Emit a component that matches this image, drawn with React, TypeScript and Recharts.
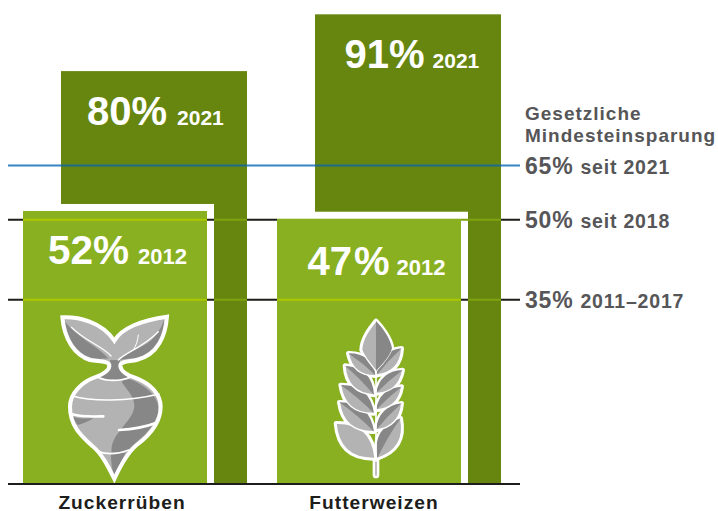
import { BarChart, Bar, XAxis, YAxis, ReferenceLine, LabelList } from "recharts";

const categories = ["Zuckerrüben", "Futterweizen"];
const printed2021 = [80, 91];
const printed2012 = [52, 47];

// The original graphic is not drawn to scale, so the heights below are what
// the picture shows on the axis, while the printed* lists hold the stated percent.
const drawn2021 = [80, 91];
const drawn2012 = [52.9, 51.4];
const guideDrawn = [61.7, 51.2, 35.7];
const guidePercent = ["65%", "50%", "35%"];
const guidePeriod = ["seit 2021", "seit 2018", "2011–2017"];

const data = categories.map((name, i) => ({
  name,
  drawn2021: drawn2021[i],
  drawn2012: drawn2012[i],
  printed2021: printed2021[i],
  printed2012: printed2012[i],
}));

const FONT = "'Liberation Sans', Arial, sans-serif";
const TEXT_GREY = "#565658";
const BACK_GREEN = "#66860f";
const FRONT_GREEN = "#88b021";
const BORDER = 7;

const guideColor = ["#3584c4", "#1d1d1b", "#1d1d1b"];
const guideOnBack = ["#1f6a8c", "#7fa30f", "#7fa30f"];
const guideOnFront = ["#1f6a8c", "#acc800", "#acc800"];
const tickShift = [-12, -14];

// y of a guide inside a bar, from the bar's own scale
const guideY = (p: any, g: number) => p.y + p.height - (p.height * g) / p.drawnValue;

function BackBar(props: any) {
  const { x, y, width, height, drawn2021: drawnValue } = props;
  const p = { y, height, drawnValue };
  return (
    <g>
      <rect x={x} y={y} width={width} height={height} fill={BACK_GREEN} />
      {guideDrawn.map((g, i) => (
        <line key={i} x1={x} x2={x + width} y1={guideY(p, g)} y2={guideY(p, g)} stroke={guideOnBack[i]} strokeWidth={2} />
      ))}
    </g>
  );
}

function Beet({ x, y }: { x: number; y: number }) {
  const dark = "#878787";
  const light = "#b3b3b3";
  const outline =
    "M22 22 C70 20 140 35 178 92 C200 55 260 30 336 20 C332 75 310 135 245 150 C225 155 195 152 196 168 C198 185 215 195 240 203 C285 220 317 250 317 290 C317 340 285 375 245 405 C215 430 195 470 178 507 C160 470 140 430 112 408 C75 375 45 345 45 290 C45 250 80 215 125 200 C145 193 165 180 163 165 C160 152 130 155 105 150 C60 135 28 90 22 22 Z";
  return (
    <g transform={`translate(${x},${y}) scale(0.3333)`}>
      <path d={outline} fill={light} />
      <path d="M30 35 C40 90 65 130 110 143 C130 148 150 146 160 145 C130 110 70 85 30 35 Z" fill={dark} />
      <path d="M328 28 C325 80 300 130 245 143 C230 147 210 145 195 150 C215 125 260 115 290 90 C310 70 320 50 328 28 Z" fill={dark} />
      <path d="M165 150 L195 150 C188 175 205 190 225 200 C195 212 155 212 130 202 C150 195 172 175 165 150 Z" fill={dark} />
      <path d="M200 215 C215 240 240 260 238 290 C235 320 205 345 185 375 C172 395 168 410 170 428 C190 428 205 425 215 425 C240 395 290 370 310 310 C318 270 280 225 215 205 Z" fill={dark} />
      <path d="M168 432 L212 428 C200 450 188 475 178 500 C172 480 168 460 168 432 Z" fill={dark} />
      <path d="M55 320 C75 328 100 325 115 325 C100 335 80 342 68 345 C60 335 57 330 55 320 Z" fill={dark} />
      <path d={outline} fill="none" stroke="#fff" strokeWidth={12} />
      <g fill="none" stroke="#fff" strokeLinecap="round">
        <path d="M50 52 C85 90 145 110 168 138" strokeWidth={4} />
        <path d="M190 150 C215 125 260 115 310 65" strokeWidth={4} />
        <path d="M235 120 C245 105 248 90 250 75" strokeWidth={3} />
        <path d="M125 200 C155 215 195 215 230 200" strokeWidth={5} />
        <path d="M52 258 C110 275 220 275 312 252" strokeWidth={5} />
        <path d="M52 313 C85 322 115 320 145 319" strokeWidth={8} />
        <path d="M192 360 C230 358 270 352 300 340" strokeWidth={8} />
        <path d="M130 425 C160 435 195 430 222 420" strokeWidth={5} />
      </g>
    </g>
  );
}

// tip x, tip y, base x, base y, width factor
const wheatLeft = [
  [18, 325, 135, 430, 0.47],
  [28, 262, 132, 350, 0.44],
  [32, 210, 132, 295, 0.44],
  [45, 152, 132, 240, 0.44],
  [55, 115, 138, 182, 0.42],
];
const wheatRight = [
  [212, 310, 142, 430, 0.44],
  [215, 265, 138, 345, 0.4],
  [215, 215, 138, 285, 0.4],
  [218, 165, 138, 235, 0.4],
  [215, 100, 140, 180, 0.42],
];

function leafPaths([tx, ty, bx, by, w]: number[], side: number) {
  const dx = bx - tx;
  const dy = by - ty;
  const mx = tx + dx / 2;
  const my = ty + dy / 2;
  const k = w * side;
  const c1 = `${mx + dy * k} ${my - dx * k}`;
  const c2 = `${mx - dy * k} ${my + dx * k}`;
  return {
    outer: `M${tx} ${ty} Q${c1} ${bx} ${by} Q${c2} ${tx} ${ty} Z`,
    half: `M${tx} ${ty} Q${c1} ${bx} ${by} Q${mx + dy * k * 0.1} ${my - dx * k * 0.1} ${tx} ${ty} Z`,
  };
}

function Wheat({ x, y }: { x: number; y: number }) {
  const dark = "#878787";
  const light = "#b3b3b3";
  const top = "M138 18 C120 40 96 70 95 105 C105 130 125 150 138 168 C155 150 180 125 186 100 C182 70 155 35 138 18 Z";
  const leaves = [
    ...wheatLeft.map((l, i) => ({ ...leafPaths(l, 1), shade: i > 0 })),
    ...wheatRight.map((l) => ({ ...leafPaths(l, -1), shade: true })),
  ];
  return (
    <g transform={`translate(${x},${y}) scale(0.3333)`}>
      <path d="M138 420 L138 480" stroke="#fff" strokeWidth={20} strokeLinecap="round" />
      <path d="M138 420 L138 480" stroke={light} strokeWidth={5} strokeLinecap="round" />
      {leaves.map((l, i) => (
        <path key={i} d={l.outer} fill="#fff" stroke="#fff" strokeWidth={14} strokeLinejoin="round" />
      ))}
      <path d={top} fill="#fff" stroke="#fff" strokeWidth={14} strokeLinejoin="round" />
      {leaves.map((l, i) => (
        <g key={i}>
          <path d={l.outer} fill={light} stroke="#fff" strokeWidth={4} />
          {l.shade && <path d={l.half} fill={dark} />}
        </g>
      ))}
      <path d={top} fill={light} stroke="#fff" strokeWidth={4} />
      <path d="M138 18 C155 35 182 70 186 100 C180 125 155 150 138 168 Z" fill={dark} />
      <path d="M138 170 L138 440" stroke="#fff" strokeWidth={5} />
    </g>
  );
}

function FrontBar(props: any) {
  const { x, y, width, height, drawn2012: drawnValue, index } = props;
  const p = { y, height, drawnValue };
  const inside = guideDrawn.filter((g) => g <= drawnValue);
  const cx = x + width / 2;
  const base = y + height;
  return (
    <g>
      <rect x={x - BORDER} y={y - BORDER} width={width + 2 * BORDER} height={height + BORDER} fill="#fff" />
      {inside.map((g) => {
        const atTop = drawnValue - g < 0.5;
        return (
          <g key={g}>
            <line x1={x - BORDER} x2={x} y1={guideY(p, g)} y2={guideY(p, g)} stroke="#1d1d1b" strokeWidth={2} />
            <line
              x1={x + width}
              x2={x + width + BORDER}
              y1={guideY(p, g)}
              y2={guideY(p, g)}
              stroke={atTop ? guideOnBack[guideDrawn.indexOf(g)] : "#1d1d1b"}
              strokeWidth={2}
            />
          </g>
        );
      })}
      <rect x={x} y={y} width={width} height={height} fill={FRONT_GREEN} />
      {inside
        .filter((g) => drawnValue - g >= 0.5)
        .map((g) => (
          <line key={g} x1={x} x2={x + width} y1={guideY(p, g)} y2={guideY(p, g)} stroke={guideOnFront[guideDrawn.indexOf(g)]} strokeWidth={2} />
        ))}
      {index === 0 ? <Beet x={cx - 60} y={base - 174} /> : <Wheat x={cx - 39} y={base - 169} />}
    </g>
  );
}

const labelStyle2021 = { inset: [26, 29.5], drop: [54, 54], size: [40, 40], yearSize: [21, 21], gap: [10, 8], pctGap: [0, 0] };
const labelStyle2012 = { inset: [25, 30.5], drop: [53, 56], size: [40.5, 40], yearSize: [22, 22], gap: [9, 7], pctGap: [0, 2] };

function percentLabel(year: string, s: typeof labelStyle2021) {
  return (props: any) => {
    const { x, y, value, index: i } = props;
    return (
      <text x={x + s.inset[i]} y={y + s.drop[i]} fill="#fff" fontFamily={FONT} fontWeight="bold">
        <tspan fontSize={s.size[i]}>{value}</tspan>
        <tspan fontSize={s.size[i]} dx={s.pctGap[i]}>
          %
        </tspan>
        <tspan fontSize={s.yearSize[i]} dx={s.gap[i]}>
          {year}
        </tspan>
      </text>
    );
  };
}

function CategoryTick({ x, y, payload, index }: any) {
  return (
    <text
      x={x + tickShift[index]}
      y={y + 17}
      textAnchor="middle"
      fill="#1d1d1b"
      fontFamily={FONT}
      fontWeight="bold"
      fontSize={19.2}
      letterSpacing={1}
    >
      {payload.value}
    </text>
  );
}

function guideLabel(i: number) {
  return (props: any) => {
    const { viewBox } = props;
    return (
      <text
        x={viewBox.x + viewBox.width + 5}
        y={viewBox.y + 8.5}
        fill={TEXT_GREY}
        fontFamily={FONT}
        fontWeight="bold"
        letterSpacing={0.8}
      >
        <tspan fontSize={23}>{guidePercent[i]}</tspan>
        <tspan fontSize={19.5} dx={7}>
          {guidePeriod[i]}
        </tspan>
      </text>
    );
  };
}

export default function App() {
  return (
    <div style={{ position: "absolute", left: 0, top: 0 }}>
      <BarChart
        width={718}
        height={511}
        data={data}
        margin={{ top: 4, right: 198, bottom: 0, left: 8 }}
        barGap={-224}
      >
        <XAxis
          dataKey="name"
          height={27}
          tick={CategoryTick}
          tickLine={false}
          axisLine={{ stroke: "#1d1d1b", strokeWidth: 2 }}
          padding={{ left: -1, right: 5 }}
          interval={0}
        />
        <YAxis hide domain={[0, 93]} />
        {guideDrawn.map((g, i) => (
          <ReferenceLine key={g} y={g} stroke={guideColor[i]} strokeWidth={2} label={guideLabel(i)} zIndex={-1} />
        ))}
        <Bar dataKey="drawn2021" barSize={186} shape={BackBar} isAnimationActive={false}>
          <LabelList dataKey="printed2021" content={percentLabel("2021", labelStyle2021)} />
        </Bar>
        <Bar dataKey="drawn2012" barSize={184} shape={FrontBar} isAnimationActive={false}>
          <LabelList dataKey="printed2012" content={percentLabel("2012", labelStyle2012)} />
        </Bar>
        <text x={525} y={120} fill={TEXT_GREY} fontFamily={FONT} fontWeight="bold" fontSize={19} letterSpacing={1}>
          Gesetzliche
        </text>
        <text x={525} y={142} fill={TEXT_GREY} fontFamily={FONT} fontWeight="bold" fontSize={19} letterSpacing={1}>
          Mindesteinsparung
        </text>
      </BarChart>
    </div>
  );
}
